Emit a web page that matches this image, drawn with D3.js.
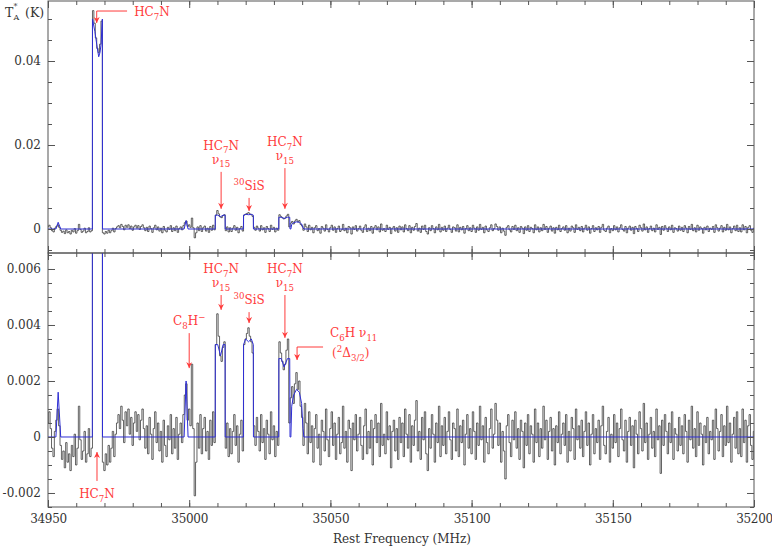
<!DOCTYPE html>
<html>
<head>
<meta charset="utf-8">
<script src="https://cdn.jsdelivr.net/npm/d3@7.9.0/dist/d3.min.js"></script>
<style>
  body { margin: 0; background: #fff; }
  svg { display: block; font-family: "DejaVu Serif", serif; }
</style>
</head>
<body>
<div id="chart"></div>
<script>
// channel grid of the spectrum (MHz)
const freqStart = 34950;
const chanWidth = 0.5;

// observed antenna temperature, in units of 1e-4 K, one value per channel (5 MHz per row)
const tA = [
  5, 9, 3, -4, -7, 2, 6, 10, 4, -3,
  -8, -5, -11, -2, -9, -6, -12, -3, -7, 1,
  -10, -4, 11, -1, -8, -5, 2, -9, -6, 3,
  -7, -4, 520, 490, 455, 430, 420, 440, 495, -9,
  -12, -6, -10, -3, -9, -4, 2, -7, 1, 5,
  8, 3, 11, 6, -2, 9, 4, 10, 1, 7,
  -3, 5, 9, 2, 8, -1, 6, 10, 3, -4,
  4, -6, 7, 1, -8, 3, 9, -2, 5, -5,
  2, -9, 6, -3, -7, 4, -1, 8, -6, 3,
  -4, 7, -8, 1, 5, -2, 8, 15, 19, 6,
  10, 4, 26, 3, -21, -9, 5, -4, 8, -6,
  3, 7, -5, 2, -8, 6, -3, 9, -2, 33,
  44, 36, 29, 27, 32, 34, -4, 5, -7, 3,
  -6, 2, 8, -3, 4, -9, 1, 6, -5, 33,
  35, 37, 39, 36, 34, 30, 4, -3, 7, 2,
  -5, 8, -2, 3, -8, 6, 1, -6, 9, -1,
  4, -7, 2, -3, 34, 30, 27, 24, 26, 31,
  35, 5, 14, 18, 12, 19, 23, 17, 20, 11,
  7, -3, 12, 5, -6, 9, -2, 4, -9, 3,
  8, -4, 1, -10, 6, 2, -5, 10, -1, -7,
  3, 9, -3, 5, -8, 1, 7, -6, -2, 11,
  -4, 2, -9, 6, 3, -12, 5, -1, 8, -5,
  1, 7, -3, -8, 4, 10, -6, 2, -4, 6,
  -10, 3, 8, -2, 5, -7, 12, -3, 1, -6,
  9, -1, 4, -11, 2, 6, -5, 3, -8, 7,
  -2, 5, -7, 10, 1, -4, 8, -9, 4, -3,
  6, 13, -5, 2, -8, 7, -1, 9, -6, -12,
  3, -4, 8, 1, -9, 5, -2, 11, -7, 4,
  -3, 7, -6, 2, 9, -1, -8, 5, 3, -5,
  10, -7, 4, -2, 6, -10, 1, 8, -4, 3,
  -6, 9, 2, -8, 5, -3, 11, -1, 4, -9,
  7, -2, -6, 3, 10, -4, 1, 12, 6, -3,
  5, -9, 2, -5, -15, 4, 8, -2, -7, 6,
  -1, 9, -4, 3, -8, 6, 2, -11, 5, -3,
  8, -6, 4, 1, -9, 10, -2, 5, -7, 3,
  -4, 11, -1, 6, -8, 2, 7, -5, 3, -10,
  4, -2, 9, -6, 1, 5, -3, 8, -9, 2,
  -5, 7, 3, -8, 10, -1, 4, -4, 6, -7,
  2, 9, -3, 5, -10, 1, 8, -6, 3, -2,
  6, -8, 4, 11, -3, -6, 2, 7, -9, 1,
  -4, 8, -2, 5, -7, 3, 10, -1, -5, 6,
  -9, 2, 7, -3, 4, -11, 6, 1, -6, 9,
  3, -5, 12, -2, 5, -8, 1, 7, -4, 2,
  -7, 10, -1, 4, -13, 6, -3, 8, 2, -6,
  5, -2, 9, -8, 3, 1, -5, 7, -3, 4,
  -6, 8, 2, -9, 6, -1, 11, -4, 3, -7,
  9, -3, 5, 1, -10, 4, -2, 7, -6, 2,
  -1, 6, -8, 10, 3, -5, 2, 8, -7, 4,
  -3, 11, -2, 5, -9, 1, 7, -4, 9, -6,
  3, -7, 10, -2, 6, -9, 4, 8, -3, -8,
  2
];

// fitted line profiles (blue): [MHz, K]
const fitPts = [
  [34950, 0], [34952.8, 0], [34953.6, 0.0016], [34954.5, 0],
  [34965.7, 0], [34965.75, 0.050], [34966.6, 0.047], [34967.25, 0.044], [34967.95, 0.041],
  [34968.4, 0.042], [34968.8, 0.044], [34969.15, 0.049], [34969.25, 0.050], [34969.3, 0],
  [34998.2, 0], [34998.9, 0.0020], [34999.6, 0],
  [35009.2, 0], [35009.25, 0.0033], [35010.1, 0.0033], [35011.1, 0.0029], [35012.0, 0.0033],
  [35012.7, 0.0033], [35012.75, 0],
  [35019.2, 0], [35019.25, 0.0033], [35020.0, 0.0035], [35021.0, 0.0034], [35022.0, 0.0035],
  [35022.7, 0.0033], [35022.75, 0],
  [35031.7, 0], [35031.75, 0.0028], [35032.6, 0.0028], [35033.6, 0.0025], [35034.8, 0.0028],
  [35035.6, 0.0028], [35035.7, 0],
  [35036.0, 0], [35036.3, 0.0011], [35037.0, 0.0015], [35038.0, 0.0017], [35039.0, 0.0016],
  [35039.8, 0.0012], [35040.3, 0.0003], [35040.6, 0],
  [35200, 0]
];

// axis ticks
const xTicks = [34950, 35000, 35050, 35100, 35150, 35200];
const xLabels = ['34950', '35000', '35050', '35100', '35150', '35200'];
const topTicks = [0, 0.02, 0.04];
const topLabels = ['0', '0.02', '0.04'];
const botTicks = [-0.002, 0, 0.002, 0.004, 0.006];
const botLabels = ['-0.002', '0', '0.002', '0.004', '0.006'];

// line identifications: frequency, arrow tip / tail (K), label lines
const topNotes = [
  { f: 35011.3, tip: 0.0048, tail: 0.0136, lines: ['HC_7N', '\u03bd_{15}'] },
  { f: 35021.2, tip: 0.0043, tail: 0.0074, lines: ['^{30}SiS'] },
  { f: 35033.9, tip: 0.0048, tail: 0.0145, lines: ['HC_7N', '\u03bd_{15}'] }
];
const botNotes = [
  { f: 35000.0, tip: 0.00246, tail: 0.00371, lines: ['C_8H^\u2212'] },
  { f: 35011.3, tip: 0.00454, tail: 0.00507, lines: ['HC_7N', '\u03bd_{15}'] },
  { f: 35021.2, tip: 0.00407, tail: 0.00446, lines: ['^{30}SiS'] },
  { f: 35033.9, tip: 0.00354, tail: 0.00507, lines: ['HC_7N', '\u03bd_{15}'] }
];

const width = 772;
const height = 546;
const red = '#ff3b3b';
const font = '"DejaVu Serif", serif';

const spec = tA.map((v, i) => ({ f: freqStart + i * chanWidth, t: v * 1e-4 }));

const x = d3.scaleLinear().domain([34950, 35200]).range([48, 754]);

const panels = [
  { id: 'top', y0: 1, y1: 253, domain: [-0.005714, 0.054286], ticks: topTicks, labels: topLabels, minor: 0.005 },
  { id: 'bot', y0: 253, y1: 507, domain: [-0.0025, 0.006571], ticks: botTicks, labels: botLabels, minor: 0.0005 }
];

const svg = d3.select('#chart').append('svg')
  .attr('width', width)
  .attr('height', height)
  .attr('viewBox', `0 0 ${width} ${height}`)
  .style('font-family', font);

const defs = svg.append('defs');
defs.append('marker')
  .attr('id', 'ah')
  .attr('viewBox', '0 0 8 8')
  .attr('refX', 8)
  .attr('refY', 4)
  .attr('markerWidth', 7)
  .attr('markerHeight', 6)
  .attr('markerUnits', 'userSpaceOnUse')
  .attr('orient', 'auto')
  .append('path')
  .attr('d', 'M0,0L8,4L0,8L2.5,4z')
  .attr('fill', red);

// sub/superscript markup: _x or _{xx}, ^x or ^{xx}
function rich(text, str, size) {
  const re = /([_^])(\{[^}]*\}|.)|([^_^]+)/g;
  let shift = 0;
  let m;
  while ((m = re.exec(str))) {
    if (m[3]) {
      text.append('tspan').attr('dy', -shift).attr('font-size', size).text(m[3]);
      shift = 0;
    } else {
      const s = m[2].replace(/[{}]/g, '');
      const d = m[1] === '_' ? size * 0.3 : -size * 0.42;
      text.append('tspan').attr('dy', d - shift).attr('font-size', size * 0.72).text(s);
      shift = d;
    }
  }
}

const minorX = d3.range(34950, 35201, 10);

panels.forEach((p) => {
  const y = d3.scaleLinear().domain(p.domain).range([p.y1, p.y0]);
  p.y = y;
  const h = p.y1 - p.y0;

  defs.append('clipPath').attr('id', 'clip-' + p.id)
    .append('rect')
    .attr('x', 48).attr('y', p.y0).attr('width', 706).attr('height', h);

  const g = svg.append('g');

  const plot = g.append('g').attr('clip-path', `url(#clip-${p.id})`);

  plot.append('path')
    .datum(spec)
    .attr('fill', 'none')
    .attr('stroke', '#303030')
    .attr('stroke-width', 0.75)
    .attr('d', d3.line().x((d) => x(d.f)).y((d) => y(d.t)).curve(d3.curveStep));

  plot.append('path')
    .datum(fitPts)
    .attr('fill', 'none')
    .attr('stroke', '#2e2ed4')
    .attr('stroke-width', 1)
    .attr('d', d3.line().x((d) => x(d[0])).y((d) => y(d[1])));

  // frame
  g.append('rect')
    .attr('x', 48).attr('y', p.y0).attr('width', 706).attr('height', h)
    .attr('fill', 'none').attr('stroke', '#555').attr('stroke-width', 1);

  const minorY = d3.range(Math.ceil(p.domain[0] / p.minor), Math.floor(p.domain[1] / p.minor) + 1)
    .map((k) => k * p.minor);

  const axes = [
    [d3.axisLeft(y).tickValues(minorY).tickSize(-4), 'translate(48,0)'],
    [d3.axisRight(y).tickValues(minorY).tickSize(-4), 'translate(754,0)'],
    [d3.axisRight(y).tickValues(p.ticks).tickSize(-7), 'translate(754,0)'],
    [d3.axisTop(x).tickValues(minorX).tickSize(-4), `translate(0,${p.y0})`],
    [d3.axisBottom(x).tickValues(minorX).tickSize(-4), `translate(0,${p.y1})`],
    [d3.axisTop(x).tickValues(xTicks).tickSize(-7), `translate(0,${p.y0})`],
    [d3.axisBottom(x).tickValues(xTicks).tickSize(-7), `translate(0,${p.y1})`]
  ];
  axes.forEach(([ax, tr]) => {
    const a = g.append('g').attr('transform', tr).call(ax.tickFormat('').tickSizeOuter(0));
    a.select('.domain').remove();
    a.selectAll('line').attr('stroke', '#555');
  });

  const left = g.append('g').attr('transform', 'translate(48,0)')
    .call(d3.axisLeft(y).tickValues(p.ticks).tickSize(-7).tickPadding(7)
      .tickFormat((d, i) => p.labels[i]));
  left.select('.domain').remove();
  left.selectAll('line').attr('stroke', '#555');
  left.selectAll('text')
    .attr('font-family', font)
    .attr('font-size', 12)
    .attr('fill', '#333');
});

// x labels under the lower panel
const bottomAx = svg.append('g').attr('transform', 'translate(0,507)')
  .call(d3.axisBottom(x).tickValues(xTicks).tickSize(0).tickPadding(7)
    .tickFormat((d, i) => xLabels[i]));
bottomAx.select('.domain').remove();
bottomAx.selectAll('text')
  .attr('font-family', font)
  .attr('font-size', 12)
  .attr('letter-spacing', -0.3)
  .attr('fill', '#333');

svg.append('text')
  .attr('x', 402).attr('y', 543)
  .attr('text-anchor', 'middle')
  .attr('font-size', 12)
  .attr('fill', '#333')
  .text('Rest Frequency (MHz)');

// y label T*_A (K)
const yl = svg.append('g').attr('fill', '#333').attr('font-size', 12.5);
yl.append('text').attr('x', 5).attr('y', 17).text('T');
yl.append('text').attr('x', 13.5).attr('y', 9).attr('font-size', 8).text('*');
yl.append('text').attr('x', 13.5).attr('y', 20).attr('font-size', 8).text('A');
yl.append('text').attr('x', 25).attr('y', 17).text('(K)');

// annotations
const notes = svg.append('g').attr('fill', red).style('white-space', 'pre');

function arrowNotes(list, y) {
  list.forEach((n) => {
    const xp = x(n.f);
    notes.append('line')
      .attr('x1', xp).attr('x2', xp)
      .attr('y1', y(n.tail)).attr('y2', y(n.tip))
      .attr('stroke', red).attr('stroke-width', 1)
      .attr('marker-end', 'url(#ah)');
    const k = n.lines.length;
    n.lines.forEach((s, j) => {
      const t = notes.append('text')
        .attr('x', xp)
        .attr('y', y(n.tail) - 8 - (k - 1 - j) * 14)
        .attr('text-anchor', 'middle');
      rich(t, s, 12);
    });
  });
}
arrowNotes(topNotes, panels[0].y);
arrowNotes(botNotes, panels[1].y);

// main HC7N line, top panel (elbow pointer)
const yT = panels[0].y;
notes.append('path')
  .attr('d', `M${x(34978)},${yT(0.0519)}H${x(34967.25)}V${yT(0.04905)}`)
  .attr('fill', 'none').attr('stroke', red).attr('stroke-width', 1)
  .attr('marker-end', 'url(#ah)');
rich(notes.append('text').attr('x', x(34980.5)).attr('y', yT(0.0507)), 'HC_7N', 12);

// C6H nu11 elbow pointer, lower panel
const yB = panels[1].y;
notes.append('path')
  .attr('d', `M${x(35047.4)},${yB(0.003214)}H${x(35038.2)}V${yB(0.00275)}`)
  .attr('fill', 'none').attr('stroke', red).attr('stroke-width', 1)
  .attr('marker-end', 'url(#ah)');
rich(notes.append('text').attr('x', x(35049.9)).attr('y', yB(0.003571)), 'C_6H  \u03bd_{11}', 12);
rich(notes.append('text').attr('x', x(35050.6)).attr('y', yB(0.00284)), '(^2\u0394_{3/2})', 12);

// negative ghost of HC7N, lower panel
notes.append('line')
  .attr('x1', x(34967.35)).attr('x2', x(34967.35))
  .attr('y1', yB(-0.00157)).attr('y2', yB(-0.000536))
  .attr('stroke', red).attr('stroke-width', 1)
  .attr('marker-end', 'url(#ah)');
rich(notes.append('text').attr('x', x(34967.35)).attr('y', yB(-0.00219)).attr('text-anchor', 'middle'), 'HC_7N', 12);
</script>
</body>
</html>
